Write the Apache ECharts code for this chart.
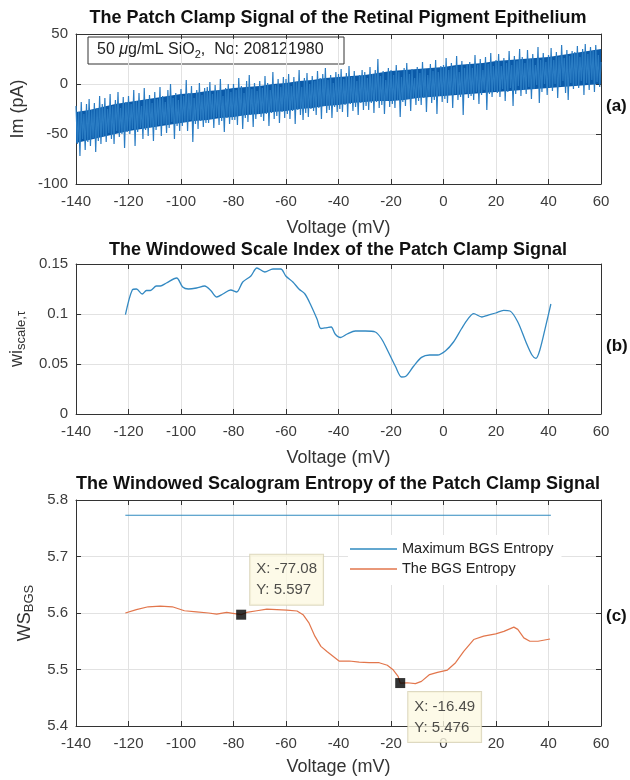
<!DOCTYPE html>
<html>
<head>
<meta charset="utf-8">
<title>Patch Clamp Signal – Retinal Pigment Epithelium</title>
<script src="https://cdn.jsdelivr.net/npm/echarts@6/dist/echarts.min.js"></script>
<style>
  html, body { margin: 0; padding: 0; background: #ffffff; }
  #chart { width: 630px; height: 780px; }
</style>
</head>
<body>
<div id="chart"></div>
<script>
// ---------- data ----------
// (a) membrane current trace, sampled every 0.5 mV from -140 mV
const traceStart = -140;
const traceStep = 0.5;
const imCurrent = [
  -22, -60, -28, -72, -18, -55, -30, -66, -20, -58, -15, -62, -26, -54, -19, -68, -24, -57, -12, -60,
  -20, -52, -14, -58, -25, -49, -10, -55, -22, -60, -16, -47, -8, -53, -24, -50, -13, -64, -18, -48,
  -12, -50, -20, -45, -6, -62, -17, -48, -9, -44, -22, -55, -4, -46, -15, -52, -11, -43, -19, -57,
  -8, -46, -15, -41, -3, -52, -12, -40, -18, -49, -6, -44, 0, -38, -14, -55, -9, -42, -16, -47,
  -5, -42, -12, -38, 4, -47, -9, -36, -2, -58, -14, -40, -6, -45, 1, -37, -11, -43, -4, -39,
  -3, -39, 2, -35, -10, -44, -1, -33, -7, -41, 5, -37, -12, -48, -4, -34, 0, -40, -8, -36,
  0, -36, -6, -41, 6, -32, -2, -45, -9, -34, 3, -38, 9, -31, -5, -43, 1, -35, -7, -30,
  3, -33, -4, -37, 8, -30, 1, -42, -6, -29, 12, -35, -1, -32, 5, -39, -3, -28, 7, -34,
  5, -30, 10, -35, -2, -27, 7, -40, 2, -26, 14, -31, -3, -36, 6, -29, 11, -33, 0, -25,
  8, -27, 3, -31, 13, -24, 6, -35, 10, -22, 16, -29, 4, -26, 9, -34, 1, -23, 12, -28,
  10, -25, 15, -28, 5, -21, 11, -33, 18, -20, 7, -27, 13, -23, 3, -31, 9, -19, 14, -26,
  12, -22, 6, -26, 17, -19, 10, -29, 14, -18, 25, -24, 8, -21, 13, -30, 4, -17, 16, -23,
  14, -20, 9, -24, 19, -16, 12, -33, 7, -18, 16, -22, 21, -15, 10, -27, 15, -14, 6, -21,
  17, -17, 11, -21, 22, -14, 15, -28, 9, -13, 20, -19, 13, -16, 24, -30, 12, -12, 18, -18,
  19, -15, 26, -19, 14, -11, 21, -24, 17, -10, 28, -16, 12, -13, 23, -31, 16, -9, 20, -14,
  22, -12, 16, -16, 29, -8, 19, -20, 25, -11, 14, -6, 27, -26, 20, -10, 31, -13, 18, -7,
  24, -9, 30, -13, 18, -5, 26, -17, 21, -8, 33, -4, 19, -22, 28, -10, 23, -2, 35, -12,
  27, -6, 21, -10, 34, -3, 25, -15, 30, -5, 19, -1, 37, -19, 24, -8, 31, 0, 22, -11,
  29, -3, 36, -7, 24, 0, 32, -14, 27, -2, 39, 3, 26, -9, 34, -16, 28, 1, 33, -5,
  32, -1, 38, -4, 27, 3, 35, -11, 40, 1, 30, -6, 37, 4, 33, -8, 39, 2, 29, -3,
  22
];
// dense core of the trace, read every 5 mV from -140 mV
const coreVoltage = [
  -140, -135, -130, -125, -120, -115, -110, -105, -100, -95, -90, -85, -80, -75,
  -70, -65, -60, -55, -50, -45, -40, -35, -30, -25, -20, -15, -10, -5,
  0, 5, 10, 15, 20, 25, 30, 35, 40, 45, 50, 55, 60
];
const coreHigh = [
  -28, -26, -23, -20, -18, -16, -14, -12, -10, -9, -7, -6, -4, -3,
  -2, 0, 1, 3, 4, 6, 7, 8, 9, 11, 13, 14, 15, 16,
  17, 19, 20, 21, 23, 24, 25, 26, 27, 29, 31, 33, 35
];
const coreLow = [
  -59, -56, -53, -50, -47, -45, -43, -41, -39, -37, -36, -34, -33, -31,
  -30, -28, -27, -25, -24, -22, -21, -19, -18, -17, -17, -16, -14, -13,
  -12, -11, -10, -9, -8, -7, -6, -5, -4, -3, -2, -1, 0
];

// (b) windowed scale index
const wiVoltage = [
  -121.2, -118.6, -117, -114.8, -113.2, -111.7, -109.4, -107.9, -105.6, -101.7,
  -99.4, -97.2, -94.1, -91, -88.7, -86.4, -84.1, -81.1, -78.8, -76.5,
  -73.4, -71.1, -68.1, -65, -62, -60.1, -57.4, -55.1, -52.8, -50.5,
  -48.2, -46.7, -44.4, -42.8, -41.3, -39.3, -36.7, -33.6, -29.8, -26,
  -23.7, -21.4, -18.3, -16, -14.5, -11.5, -8.4, -5.3, -2.3, 0.8,
  3.8, 6.9, 9.2, 11.5, 14.6, 16.8, 19.9, 22.9, 25.3, 28.3,
  31.4, 33.7, 35.2, 36.7, 39, 40.9
];
const wiScale = [
  0.0993, 0.124, 0.125, 0.120, 0.1235, 0.1235, 0.128, 0.128, 0.131, 0.136,
  0.127, 0.125, 0.126, 0.128, 0.1235, 0.117, 0.120, 0.124, 0.122, 0.132,
  0.138, 0.146, 0.142, 0.145, 0.145, 0.138, 0.132, 0.125, 0.120, 0.1085,
  0.095, 0.0855, 0.0864, 0.087, 0.080, 0.0765, 0.080, 0.083, 0.083, 0.082,
  0.0755, 0.064, 0.0475, 0.037, 0.0375, 0.0475, 0.0566, 0.059, 0.059, 0.0633,
  0.072, 0.0855, 0.0947, 0.1003, 0.097, 0.0987, 0.101, 0.1036, 0.103, 0.092,
  0.072, 0.059, 0.0556, 0.064, 0.0887, 0.110
];

// (c) windowed scalogram entropy
const bgsVoltage = [
  -121.2, -117, -112.5, -107.9, -103.3, -98.7, -94.1, -89.5, -86.4, -82.6,
  -79.6, -77.08, -75, -71.1, -67.3, -63.5, -59.7, -55.8, -53.5, -51.2,
  -49, -46.7, -44.4, -42.1, -39.8, -35.9, -32.1, -28.3, -24.5, -21.4,
  -19.1, -17.3, -16.49, -13.8, -10.7, -8.4, -5.3, -2.3, 1.5, 4.6,
  7.7, 11.5, 15.3, 19.9, 23, 26.8, 28.3, 30.6, 32.9, 36, 40.6
];
const bgsEntropy = [
  5.600, 5.606, 5.611, 5.612, 5.611, 5.604, 5.602, 5.600, 5.598, 5.601,
  5.599, 5.597, 5.601, 5.604, 5.607, 5.606, 5.605, 5.6035, 5.597, 5.582,
  5.559, 5.541, 5.532, 5.5235, 5.515, 5.515, 5.513, 5.512, 5.512, 5.5075,
  5.499, 5.488, 5.476, 5.4765, 5.475, 5.479, 5.491, 5.495, 5.499, 5.512,
  5.532, 5.553, 5.559, 5.563, 5.5675, 5.575, 5.571, 5.556, 5.550, 5.550, 5.554
];
const maxEntropyVoltage = [-121.2, 40.9];
const maxEntropy = [5.773, 5.773];

// data tips on the entropy curve
const tipVoltage = [-77.08, -16.49];
const tipEntropy = [5.597, 5.476];

// axis ranges: [min, max, interval]
const voltageRange = [-140, 60, 20];
const imRange = [-100, 50, 50];
const wiRange = [0, 0.15, 0.05];
const wsRange = [5.4, 5.8, 0.1];

// ---------- chart ----------
const FONT = '"Liberation Sans", Arial, Helvetica, sans-serif';
const AXIS = '#333333';
const LABEL = '#3c3c3c';
const GRIDLINE = '#e2e2e2';
const TRACE = '#2a7cc3';
const CORE = '#0a5aa9';

const zip = (xs, ys) => xs.map((x, i) => [x, ys[i]]);
const traceData = imCurrent.map((v, i) => [traceStart + i * traceStep, v]);
const coreData = coreVoltage.map((x, i) => [x, coreLow[i], coreHigh[i]]);

function xBottom(gi, nameGap) {
  return {
    type: 'value', gridIndex: gi, position: 'bottom',
    min: voltageRange[0], max: voltageRange[1], interval: voltageRange[2],
    axisLine: { show: true, onZero: false, lineStyle: { color: AXIS, width: 1 } },
    axisTick: { show: true, inside: true, length: 5, lineStyle: { color: AXIS } },
    axisLabel: { margin: 10, fontSize: 15, color: LABEL, fontFamily: FONT },
    splitLine: { show: true, lineStyle: { color: GRIDLINE, width: 1 } },
    name: 'Voltage (mV)', nameLocation: 'middle', nameGap: nameGap,
    nameTextStyle: { fontSize: 18, color: '#333', fontFamily: FONT }
  };
}
function xTop(gi) {
  return {
    type: 'value', gridIndex: gi, position: 'top',
    min: voltageRange[0], max: voltageRange[1], interval: voltageRange[2],
    axisLine: { show: true, onZero: false, lineStyle: { color: AXIS, width: 1 } },
    axisTick: { show: true, inside: true, length: 5, lineStyle: { color: AXIS } },
    axisLabel: { show: false }, splitLine: { show: false }
  };
}
function yLeft(gi, range, name, nameGap, rich, fmt) {
  return {
    type: 'value', gridIndex: gi, position: 'left',
    min: range[0], max: range[1], interval: range[2],
    axisLine: { show: true, onZero: false, lineStyle: { color: AXIS, width: 1 } },
    axisTick: { show: true, inside: true, length: 5, lineStyle: { color: AXIS } },
    axisLabel: { margin: 8, fontSize: 15, color: LABEL, fontFamily: FONT, formatter: fmt },
    splitLine: { show: true, lineStyle: { color: GRIDLINE, width: 1 } },
    name: name, nameLocation: 'middle', nameGap: nameGap,
    nameTextStyle: { fontSize: 18, color: '#333', fontFamily: FONT, rich: rich }
  };
}
function yRight(gi, range) {
  return {
    type: 'value', gridIndex: gi, position: 'right',
    min: range[0], max: range[1], interval: range[2],
    axisLine: { show: true, onZero: false, lineStyle: { color: AXIS, width: 1 } },
    axisTick: { show: true, inside: true, length: 5, lineStyle: { color: AXIS } },
    axisLabel: { show: false }, splitLine: { show: false }
  };
}

const subStyle = { fontSize: 13, color: '#333', fontFamily: FONT, padding: [9, 0, 0, 0] };
const baseStyle = { fontSize: 18, color: '#333', fontFamily: FONT };

function panelTitle(text, y) {
  return {
    type: 'text', x: 338, y: y, z: 10,
    style: { text: text, align: 'center', verticalAlign: 'middle',
      font: 'bold 18px ' + FONT, fill: '#111' }
  };
}
function panelTag(text, yCenter) {
  return {
    type: 'group', z: 10,
    children: [
      { type: 'rect', shape: { x: 597, y: yCenter - 20, width: 33, height: 40 },
        style: { fill: '#ffffff' } },
      { type: 'text', x: 606, y: yCenter + 2,
        style: { text: text, verticalAlign: 'middle', font: 'bold 17px ' + FONT, fill: '#111' } }
    ]
  };
}

// filled band between the low and high edges of the trace core
function renderCore(params, api) {
  if (params.dataIndex !== 0) return null;
  const upper = coreData.map(d => api.coord([d[0], d[2]]));
  const lower = coreData.map(d => api.coord([d[0], d[1]])).reverse();
  return {
    type: 'polygon',
    shape: { points: upper.concat(lower) },
    style: { fill: CORE }
  };
}

const option = {
  animation: false,
  backgroundColor: '#ffffff',
  grid: [
    { left: 76, right: 29, top: 34, height: 150 },
    { left: 76, right: 29, top: 264, height: 150 },
    { left: 76, right: 29, top: 500, height: 226 }
  ],
  xAxis: [xBottom(0, 35), xTop(0), xBottom(1, 35), xTop(1), xBottom(2, 32), xTop(2)],
  yAxis: [
    yLeft(0, imRange, 'Im (pA)', 45, null),
    yRight(0, imRange),
    yLeft(1, wiRange, '{b|wi}{s|scale,τ}', 41, { b: baseStyle, s: subStyle }),
    yRight(1, wiRange),
    yLeft(2, wsRange, '{b|WS}{s|BGS}', 35, { b: baseStyle, s: subStyle }, v => v.toFixed(1)),
    yRight(2, wsRange)
  ],
  legend: {
    data: [
      { name: 'Maximum BGS Entropy', icon: 'rect' },
      { name: 'The BGS Entropy', icon: 'rect' }
    ],
    orient: 'vertical', left: 348, top: 535,
    itemWidth: 47, itemHeight: 1.5, itemGap: 0,
    backgroundColor: '#ffffff', padding: [4, 8, 6, 2],
    textStyle: { fontSize: 14.5, lineHeight: 20, color: '#222', fontFamily: FONT },
    selectedMode: false
  },
  series: [
    {
      name: 'Im', type: 'line', xAxisIndex: 0, yAxisIndex: 0,
      data: traceData, symbol: 'none', silent: true,
      lineStyle: { color: TRACE, width: 1.2 }
    },
    {
      name: 'core', type: 'custom', xAxisIndex: 0, yAxisIndex: 0,
      data: coreData, renderItem: renderCore, silent: true, clip: true,
      encode: { x: 0, y: [1, 2] }
    },
    {
      name: 'wi', type: 'line', xAxisIndex: 2, yAxisIndex: 2,
      data: zip(wiVoltage, wiScale), symbol: 'none', smooth: 0.3, silent: true,
      lineStyle: { color: '#3389c2', width: 1.3 }
    },
    {
      name: 'Maximum BGS Entropy', type: 'line', xAxisIndex: 4, yAxisIndex: 4,
      data: zip(maxEntropyVoltage, maxEntropy), symbol: 'none', silent: true,
      itemStyle: { color: '#2f8abf' }, lineStyle: { color: '#2f8abf', width: 1.2 }
    },
    {
      name: 'The BGS Entropy', type: 'line', xAxisIndex: 4, yAxisIndex: 4,
      data: zip(bgsVoltage, bgsEntropy), symbol: 'none', silent: true,
      itemStyle: { color: '#e2764c' }, lineStyle: { color: '#e2764c', width: 1.2 }
    },
    {
      name: 'tips', type: 'scatter', xAxisIndex: 4, yAxisIndex: 4, z: 5,
      symbol: 'rect', symbolSize: 10, silent: true,
      itemStyle: { color: '#000000' },
      label: {
        show: true,
        formatter: p => 'X: ' + p.value[0] + '\nY: ' + p.value[1],
        fontSize: 15, lineHeight: 21, color: '#222', fontFamily: FONT,
        backgroundColor: '#fdf9e2', borderColor: '#d6cfb2', borderWidth: 1,
        padding: [4, 6, 4, 6]
      },
      data: [
        { value: [tipVoltage[0], tipEntropy[0]], label: { position: [14, -55] } },
        { value: [tipVoltage[1], tipEntropy[1]], label: { position: [13, 14] } }
      ]
    }
  ],
  graphic: [
    panelTitle('The Patch Clamp Signal of the Retinal Pigment Epithelium', 18),
    panelTitle('The Windowed Scale Index of the Patch Clamp Signal', 250),
    panelTitle('The Windowed Scalogram Entropy of the Patch Clamp Signal', 484),
    panelTag('(a)', 104),
    panelTag('(b)', 344),
    panelTag('(c)', 614),
    {
      type: 'group', z: 10,
      children: [
        { type: 'rect', shape: { x: 88, y: 37, width: 256, height: 27 },
          style: { fill: '#ffffff', stroke: '#333333', lineWidth: 1 } },
        { type: 'text', x: 97, y: 50,
          style: {
            text: '{n|50 }{i|μ}{n|g/mL SiO}{s|2}{n|,  No: 208121980}',
            verticalAlign: 'middle',
            rich: {
              n: { fontSize: 16, fontFamily: FONT, fill: '#222' },
              i: { fontSize: 16, fontFamily: FONT, fontStyle: 'italic', fill: '#222' },
              s: { fontSize: 11, fontFamily: FONT, fill: '#222', padding: [10, 0, 0, 0] }
            }
          } }
      ]
    }
  ]
};

const chart = echarts.init(document.getElementById('chart'), null, { renderer: 'canvas' });
chart.setOption(option);
</script>
</body>
</html>
